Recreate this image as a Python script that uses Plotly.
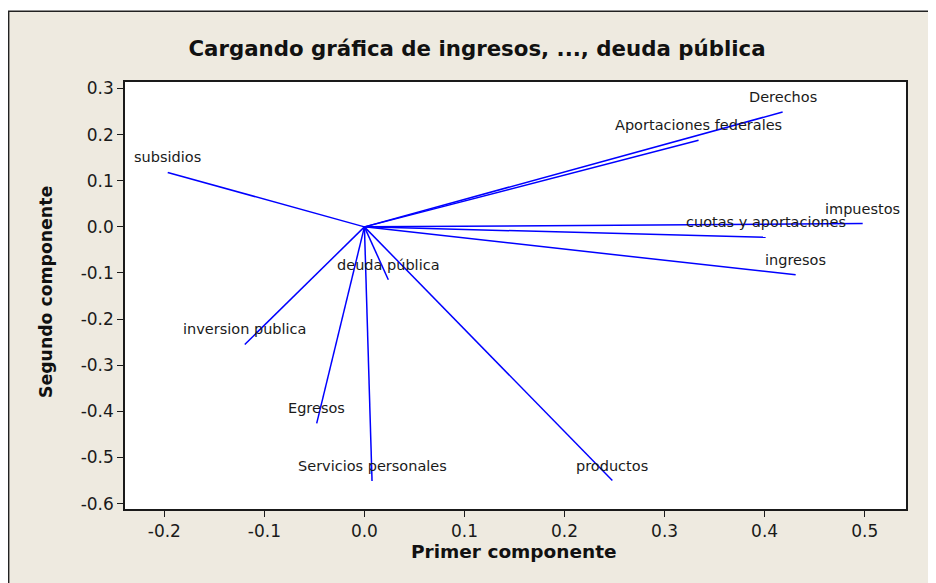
import plotly.graph_objects as go

# ---- data ----
variables = ["Derechos", "Aportaciones federales", "impuestos", "cuotas y aportaciones",
             "ingresos", "subsidios", "deuda pública", "inversion publica", "Egresos",
             "Servicios personales", "productos"]
pc1 = [0.418, 0.334, 0.498, 0.401, 0.431, -0.1966, 0.0239, -0.1196, -0.0477, 0.0076, 0.2478]
pc2 = [0.249, 0.1876, 0.0072, -0.0226, -0.104, 0.118, -0.1146, -0.255, -0.426, -0.551, -0.550]
x_ticks = [-0.2, -0.1, 0.0, 0.1, 0.2, 0.3, 0.4, 0.5]
y_ticks = [0.3, 0.2, 0.1, 0.0, -0.1, -0.2, -0.3, -0.4, -0.5, -0.6]

W, H = 936, 583
OFF = 8  # page body margin offsets the figure by 8px
L = 125 - OFF
T = 82.3 - OFF
pw, ph = 780.7, 426.4
R = W - L - pw
B = H - T - ph

def px(xp):  # reference page pixel -> paper x
    return (xp - OFF - L) / pw

def py(yp):  # reference page pixel -> paper y
    return (T + ph - (yp - OFF)) / ph

BEIGE = "#EEEAE0"
FONT = "DejaVu Sans"

xs, ys = [], []
for a, b in zip(pc1, pc2):
    xs += [0, a, None]
    ys += [0, b, None]

fig = go.Figure()
fig.add_trace(go.Scatter(x=xs, y=ys, mode="lines",
                         line=dict(color="#0000FF", width=1.5),
                         hoverinfo="skip", showlegend=False))

annotations = []
for name, a, b in zip(variables, pc1, pc2):
    annotations.append(dict(x=a, y=b, text=name, showarrow=False, yshift=15,
                            xanchor="center", yanchor="middle",
                            font=dict(family=FONT, size=14.5, color="#1a1a1a")))

# axis titles
annotations.append(dict(x=px(514), y=py(551), xref="paper", yref="paper",
                        text="<b>Primer componente</b>", showarrow=False,
                        xanchor="center", yanchor="middle",
                        font=dict(family=FONT, size=18.5, color="#111111")))
annotations.append(dict(x=px(46), y=py(292), xref="paper", yref="paper",
                        text="<b>Segundo componente</b>", showarrow=False, textangle=-90,
                        xanchor="center", yanchor="middle",
                        font=dict(family=FONT, size=17.3, color="#111111")))

shapes = [
    # white strips outside the frame
    dict(type="rect", xref="paper", yref="paper", x0=px(-20), x1=px(W + 40),
         y0=py(11.7), y1=py(-20), fillcolor="white", line=dict(width=0), layer="above"),
    dict(type="rect", xref="paper", yref="paper", x0=px(-20), x1=px(8.7),
         y0=py(H + 40), y1=py(-20), fillcolor="white", line=dict(width=0), layer="above"),
    # frame border
    dict(type="rect", xref="paper", yref="paper", x0=px(8.7), x1=px(W + 40),
         y0=py(H + 40), y1=py(11.7), fillcolor="rgba(0,0,0,0)",
         line=dict(color="#222222", width=1.5), layer="above"),
]

axis_common = dict(showgrid=False, zeroline=False, showline=True, mirror=True,
                   linecolor="#1a1a1a", linewidth=1.5, ticks="outside", ticklen=6,
                   tickwidth=1.3, tickcolor="#1a1a1a",
                   tickfont=dict(family=FONT, size=17, color="#1a1a1a"))

fig.update_layout(
    width=W, height=H,
    margin=dict(l=L, r=R, t=T, b=B, pad=0),
    paper_bgcolor=BEIGE, plot_bgcolor="white",
    title=dict(text="<b>Cargando gráfica de ingresos, ..., deuda pública</b>",
               x=(477 - OFF) / W, xref="container", xanchor="center",
               y=1 - (49 - OFF) / H, yref="container", yanchor="middle",
               font=dict(family=FONT, size=21.3, color="#111111")),
    xaxis=dict(range=[-0.2393, 0.5413], tickvals=x_ticks,
               ticktext=[f"{v:.1f}" for v in x_ticks], **axis_common),
    yaxis=dict(range=[-0.6117, 0.3141], tickvals=y_ticks,
               ticktext=[f"{v:.1f}" for v in y_ticks], **axis_common),
    annotations=annotations,
    shapes=shapes,
)

fig.write_html("out.html")
